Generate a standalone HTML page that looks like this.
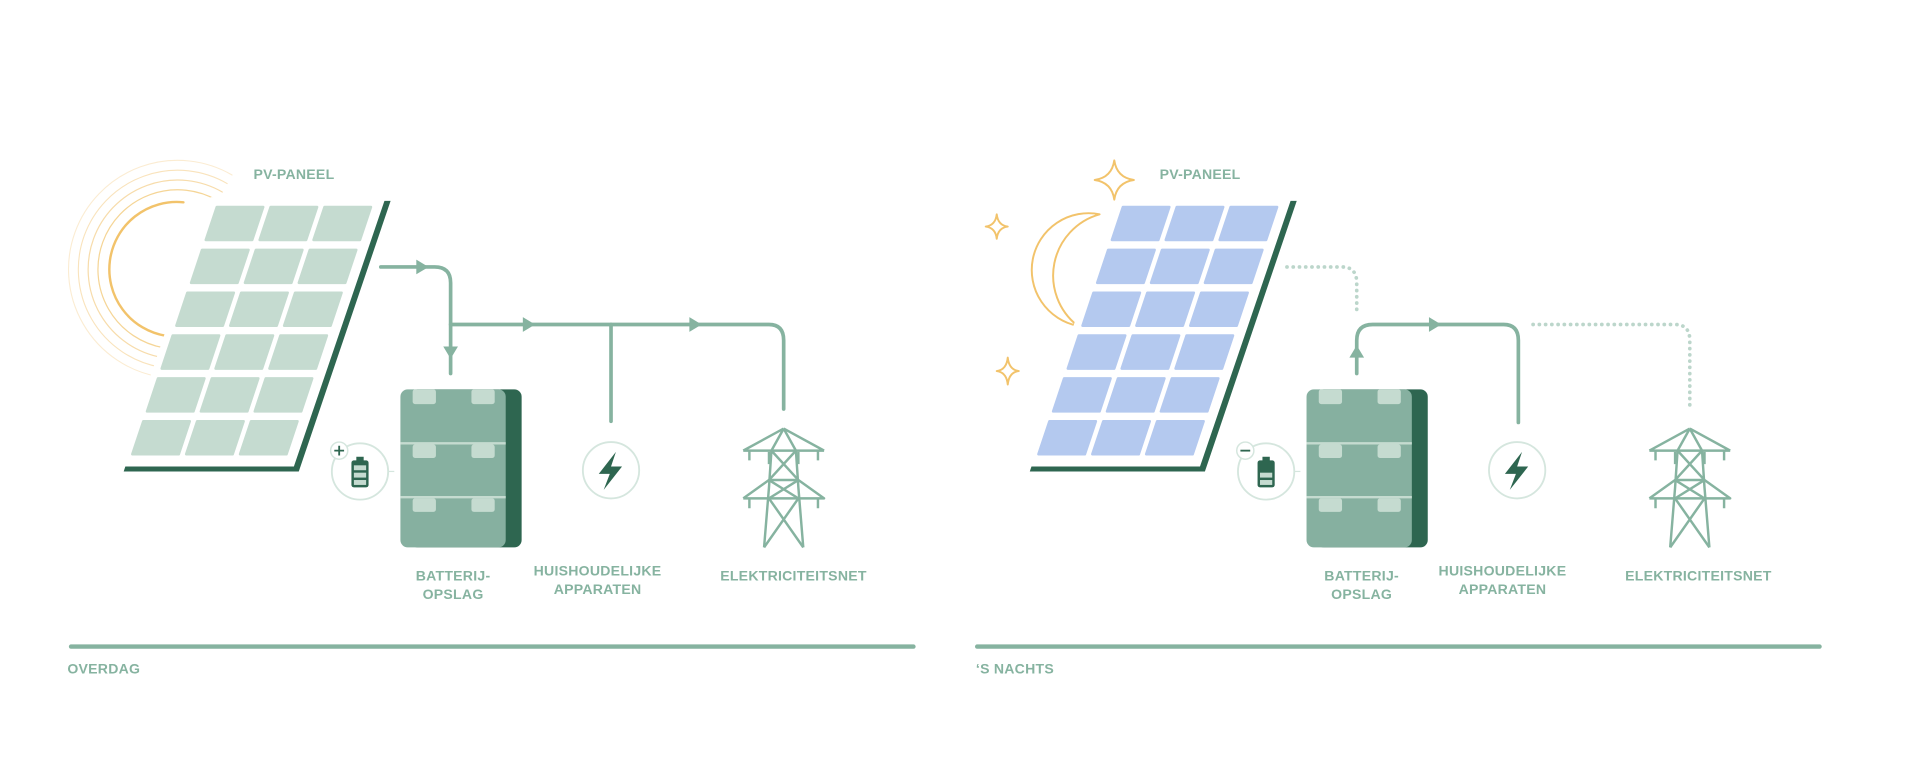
<!DOCTYPE html>
<html><head><meta charset="utf-8"><style>
html,body{margin:0;padding:0;background:#fff;}
svg{display:block;}
text{font-family:"Liberation Sans",sans-serif;font-weight:bold;fill:#86b3a0;font-size:11.5px;letter-spacing:0.2px;}
</style></head><body>
<svg width="1920" height="758" viewBox="0 0 1568 619" preserveAspectRatio="none" xmlns="http://www.w3.org/2000/svg">
<defs>
<g id="cells" stroke-linejoin="round" stroke-width="2">
<polygon points="177,169 215,169 206,196 168,196"/><polygon points="221,169 259,169 250,196 212,196"/><polygon points="265,169 303,169 294,196 256,196"/>
<polygon points="165,204 203,204 194,231 156,231"/><polygon points="209,204 247,204 238,231 200,231"/><polygon points="253,204 291,204 282,231 244,231"/>
<polygon points="153,239 191,239 182,266 144,266"/><polygon points="197,239 235,239 226,266 188,266"/><polygon points="241,239 279,239 270,266 232,266"/>
<polygon points="141,274 179,274 170,301 132,301"/><polygon points="185,274 223,274 214,301 176,301"/><polygon points="229,274 267,274 258,301 220,301"/>
<polygon points="129,309 167,309 158,336 120,336"/><polygon points="173,309 211,309 202,336 164,336"/><polygon points="217,309 255,309 246,336 208,336"/>
<polygon points="117,344 155,344 146,371 108,371"/><polygon points="161,344 199,344 190,371 152,371"/><polygon points="205,344 243,344 234,371 196,371"/>
</g>
<g id="panel">
<polygon points="175,164 319,164 244,385 101,385" fill="#2e6650"/>
<polygon points="172,161 315,161 240,381 98,381" fill="#fff"/>
</g>
<g id="battery">
<rect x="335" y="318" width="91" height="129" rx="6" fill="#2e6650"/>
<rect x="327" y="318" width="86" height="129" rx="6" fill="#86b0a0"/>
<line x1="327" y1="362" x2="413" y2="362" stroke="#c5dbd0" stroke-width="2"/>
<line x1="327" y1="406" x2="413" y2="406" stroke="#c5dbd0" stroke-width="2"/>
<g fill="#c5dbd0">
<rect x="337" y="318" width="19" height="12" rx="2"/><rect x="385" y="318" width="19" height="12" rx="2"/>
<rect x="337" y="363" width="19" height="11" rx="2"/><rect x="385" y="363" width="19" height="11" rx="2"/>
<rect x="337" y="407" width="19" height="11" rx="2"/><rect x="385" y="407" width="19" height="11" rx="2"/>
</g>
<circle cx="294" cy="385" r="23" fill="none" stroke="#d5e6de" stroke-width="1.5"/>
<line x1="317" y1="385" x2="322" y2="385" stroke="#d5e6de" stroke-width="1"/>
<rect x="287" y="376" width="14" height="22" rx="2" fill="#2e6650"/>
<rect x="291" y="373" width="6" height="4" fill="#2e6650"/>
<circle cx="277" cy="368" r="7" fill="#fff" stroke="#d5e6de" stroke-width="1.2"/>
</g>
<g id="load">
<circle cx="499" cy="384" r="23" fill="#fff" stroke="#d5e6de" stroke-width="1.5"/>
<polygon points="503,369 489,387 498,387 493,400 508,381 499,381" fill="#2e6650"/>
</g>
<g id="tower" stroke="#86b3a0" stroke-width="2" fill="none" stroke-linejoin="round">
<path d="M640,350 L630,368 L628,398 L624,447 M640,350 L650,368 L652,398 L656,447"/>
<path d="M607,368 L673,368 M640,350 L607,368 M640,350 L673,368 M607,407 L673,407 L652,392 M607,407 L628,392 L652,392"/>
<path d="M612,368 v8 M668,368 v8 M612,407 v8 M668,407 v8 M628,369 v10 M652,369 v10"/>
<path d="M630,368 L652,392 M650,368 L628,392 M628,407 L656,447 M652,407 L624,447 M628,392 L652,407 M652,392 L628,407"/>
</g>
</defs>

<!-- LEFT: day -->
<g fill="none" stroke-linecap="round">
<path d="M189.5,142.9 A89,89 0 1 0 129.5,307.6" stroke="#fbecd2" stroke-width="0.9"/>
<path d="M185.5,149.9 A81,81 0 1 0 130.9,299.8" stroke="#f9e3bc" stroke-width="0.9"/>
<path d="M181.5,156.8 A73,73 0 1 0 132.3,291.9" stroke="#f7dcab" stroke-width="1"/>
<path d="M177.5,163.7 A65,65 0 1 0 133.7,284" stroke="#f5d596" stroke-width="1"/>
<path d="M149.8,165.2 A55,55 0 0 0 135.4,274.2" stroke="#f2c36b" stroke-width="2"/>
</g>
<use href="#panel"/>
<use href="#cells" fill="#c5dbd0" stroke="#c5dbd0"/>
<text x="207" y="146">PV-PANEEL</text>

<g fill="none" stroke="#86b3a0" stroke-width="3" stroke-linecap="round">
<path d="M311,218 H355 Q368,218 368,231 V305"/>
<path d="M368,265 H628 Q640,265 640,278 V334"/>
<path d="M499,265 V344"/>
</g>
<g fill="#86b3a0">
<polygon points="340,212 350,218 340,224"/>
<polygon points="427,259 437,265 427,271"/>
<polygon points="563,259 573,265 563,271"/>
<polygon points="362,283 368,293 374,283"/>
</g>
<use href="#battery"/>
<path d="M273,368 h8 M277,364 v8" stroke="#2e6650" stroke-width="1.5"/>
<g fill="#c5dbd0"><rect x="289" y="380" width="10" height="4"/><rect x="289" y="386" width="10" height="4"/><rect x="289" y="392" width="10" height="4"/></g>
<use href="#load"/>
<use href="#tower"/>
<text x="370" y="474" text-anchor="middle">BATTERIJ-</text>
<text x="370" y="489" text-anchor="middle">OPSLAG</text>
<text x="488" y="470" text-anchor="middle">HUISHOUDELIJKE</text>
<text x="488" y="485" text-anchor="middle">APPARATEN</text>
<text x="648" y="474" text-anchor="middle">ELEKTRICITEITSNET</text>
<line x1="58" y1="528" x2="746" y2="528" stroke="#86b3a0" stroke-width="3.5" stroke-linecap="round"/>
<text x="55" y="550">OVERDAG</text>

<!-- RIGHT: night -->
<g fill="none" stroke="#f2c36b" stroke-width="1.6" stroke-linejoin="round">
<path d="M898,175 A46,46 0 1 0 880,266 A52,52 0 0 1 898,175 Z"/>
<path d="M910,131 Q912,145 926,147 Q912,149 910,163 Q908,149 894,147 Q908,145 910,131 Z"/>
<path d="M814,175 Q815,184 823,185 Q815,186 814,195 Q813,186 805,185 Q813,184 814,175 Z"/>
<path d="M823,292 Q824,302 832,303 Q824,304 823,314 Q822,304 814,303 Q822,302 823,292 Z"/>
</g>
<g transform="translate(740,0)">
<use href="#panel"/>
<use href="#cells" fill="#b4c9ef" stroke="#b4c9ef"/>
</g>
<text x="947" y="146">PV-PANEEL</text>
<g fill="none" stroke="#bcd6cb" stroke-width="3" stroke-linecap="round" stroke-dasharray="0.1 5">
<path d="M1051,218 H1096 Q1108,218 1108,231 V255"/>
<path d="M1252,265 H1368 Q1380,265 1380,278 V334"/>
</g>
<g fill="none" stroke="#86b3a0" stroke-width="3" stroke-linecap="round">
<path d="M1108,305 V278 Q1108,265 1121,265 H1228 Q1240,265 1240,278 V345"/>
</g>
<g fill="#86b3a0">
<polygon points="1167,259 1177,265 1167,271"/>
<polygon points="1102,292 1108,282 1114,292"/>
</g>
<g transform="translate(740,0)">
<use href="#battery"/>
<path d="M273,368 h8" stroke="#2e6650" stroke-width="1.5"/>
<g fill="#c5dbd0"><rect x="289" y="386" width="10" height="4"/><rect x="289" y="392" width="10" height="4"/></g>
<use href="#load"/>
<use href="#tower"/>
</g>
<text x="1112" y="474" text-anchor="middle">BATTERIJ-</text>
<text x="1112" y="489" text-anchor="middle">OPSLAG</text>
<text x="1227" y="470" text-anchor="middle">HUISHOUDELIJKE</text>
<text x="1227" y="485" text-anchor="middle">APPARATEN</text>
<text x="1387" y="474" text-anchor="middle">ELEKTRICITEITSNET</text>
<line x1="798" y1="528" x2="1486" y2="528" stroke="#86b3a0" stroke-width="3.5" stroke-linecap="round"/>
<text x="797" y="550">‘S NACHTS</text>
</svg>
</body></html>
